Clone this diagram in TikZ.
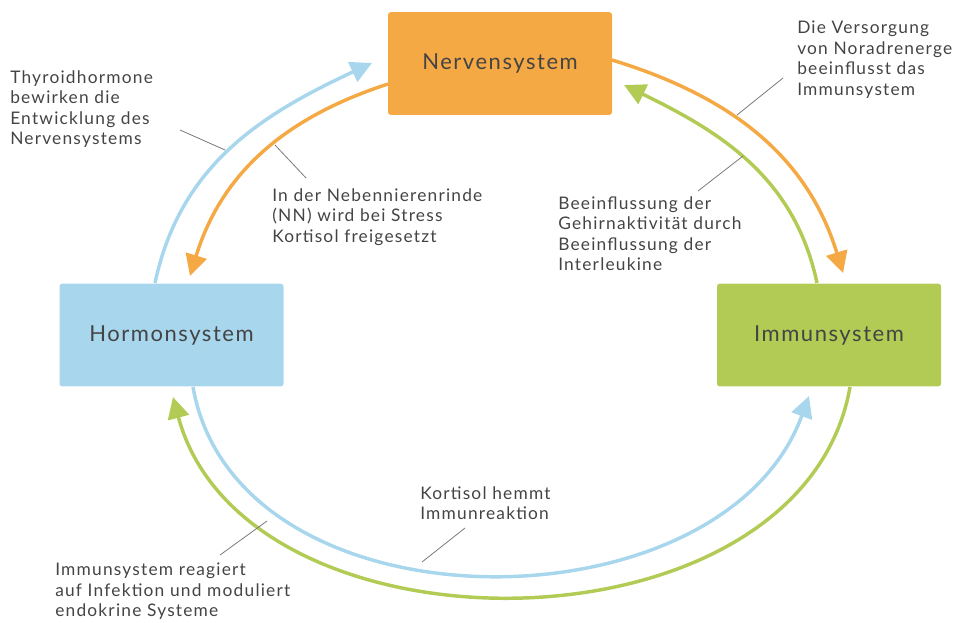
\documentclass[tikz,border=0pt]{standalone}
\usepackage{fontspec}
\setmainfont[LetterSpace=7]{Lato}
\usetikzlibrary{arrows.meta}

\definecolor{nervorange}{HTML}{F5A945}
\definecolor{hormblue}{HTML}{A7D6ED}
\definecolor{immgreen}{HTML}{B2CB55}
\definecolor{textgrey}{HTML}{444444}
\definecolor{leadgrey}{HTML}{7A7A7A}

\tikzset{
  sysbox/.style={rounded corners=2pt, minimum width=168pt, minimum height=77pt,
    text=textgrey, font=\fontsize{16.5}{19}\selectfont},
  label/.style={anchor=north west, align=left, inner sep=0pt, text=textgrey,
    font=\fontsize{13}{15.4}\selectfont},
  flow/.style={line width=2.6pt, ->},
  leader/.style={leadgrey, line width=0.6pt}
}

\begin{document}
\begin{tikzpicture}[x=0.75pt,y=0.75pt,>={Triangle[length=16pt,width=16pt]}]
\useasboundingbox (0,0) rectangle (966,-622);

\node[sysbox, fill=nervorange] (nerv) at (500,-63.5) {Nervensystem};
\node[sysbox, fill=hormblue]   (horm) at (171.5,-335) {Hormonsystem};
\node[sysbox, fill=immgreen]   (imm)  at (829,-335)   {Immunsystem};

% ends of the arcs
\coordinate (hormtop)   at (155,-283);
\coordinate (nervleft)  at (372,-63);
\coordinate (nervlow)   at (388,-84);
\coordinate (hormtip)   at (190,-276);
\coordinate (nervright) at (612,-60);
\coordinate (immtip)    at (843,-273);
\coordinate (immtop)    at (817,-283);
\coordinate (nervtip)   at (624,-85);
\coordinate (hormbot)   at (193,-387);
\coordinate (immbottip) at (809,-396);
\coordinate (immbot)    at (850,-387);
\coordinate (hormbottip) at (173,-397);

\path[flow, hormblue]   (hormtop)   edge[out=78, in=205] (nervleft);
\path[flow, nervorange] (nervlow)   edge[out=198, in=73] (hormtip);
\path[flow, nervorange] (nervright) edge[out=-17, in=107] (immtip);
\path[flow, immgreen]   (immtop)    edge[out=102, in=-26] (nervtip);
\path[flow, hormblue]   (hormbot)   edge[out=-80, in=-110, looseness=1.05] (immbottip);
\path[flow, immgreen]   (immbot)    edge[out=-100, in=-75, looseness=1.05] (hormbottip);

% labels
\node[label] (lthyr) at (10,-70)   {Thyroidhormone\\bewirken die\\Entwicklung des\\Nervensystems};
\node[label] (lnn)   at (272,-188) {In der Nebennierenrinde\\(NN) wird bei Stress\\Kortisol freigesetzt};
\node[label] (lnor)  at (797,-21)  {Die Versorgung\\von Noradrenerge\\beeinflusst das\\Immunsystem};
\node[label] (lgeh)  at (558,-196) {Beeinflussung der\\Gehirnaktivit\"at durch\\Beeinflussung der\\Interleukine};
\node[label] (lkort) at (420,-486) {Kortisol hemmt\\Immunreaktion};
\node[label] (linf)  at (55,-563)  {Immunsystem reagiert\\auf Infektion und moduliert\\endokrine Systeme};

% leader lines
\coordinate (thyA) at (180,-130);  \coordinate (thyB) at (225,-150);
\coordinate (nnA)  at (275,-145);  \coordinate (nnB)  at (306,-178);
\coordinate (norA) at (737,-115);  \coordinate (norB) at (783,-78);
\coordinate (gehA) at (743,-156);  \coordinate (gehB) at (698,-191);
\coordinate (korA) at (465,-528);  \coordinate (korB) at (422,-562);
\coordinate (infA) at (267,-521);  \coordinate (infB) at (220,-555);

\draw[leader] (thyA) -- (thyB);
\draw[leader] (nnA) -- (nnB);
\draw[leader] (norA) -- (norB);
\draw[leader] (gehA) -- (gehB);
\draw[leader] (korA) -- (korB);
\draw[leader] (infA) -- (infB);

\end{tikzpicture}
\end{document}
